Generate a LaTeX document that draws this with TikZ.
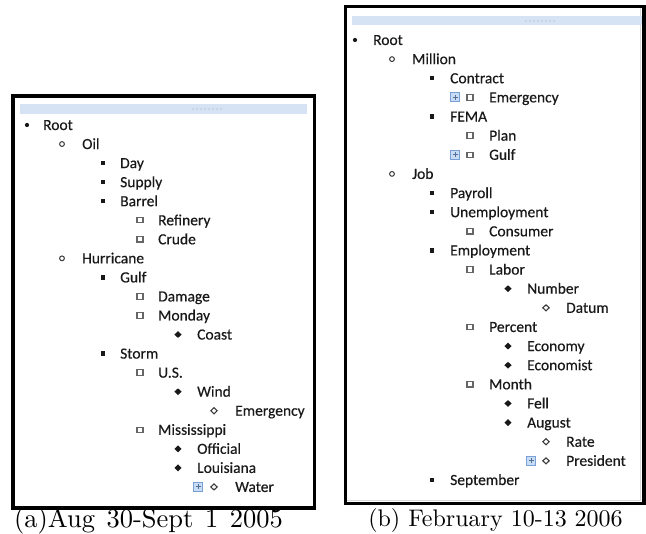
\documentclass[tikz,border=0pt]{standalone}
\usepackage{fontspec}
\newfontfamily\listfont{Carlito}[FakeBold=0.35]
\newfontfamily\capfont{lmroman10-regular}[Extension=.otf]
\definecolor{hdrblue}{RGB}{214,227,244}
\definecolor{hdrdot}{RGB}{150,170,200}
\definecolor{iconblue}{RGB}{120,160,215}
\definecolor{iconfill}{RGB}{200,220,245}
\definecolor{txtc}{RGB}{25,25,25}
\tikzset{
  frame/.style={draw=black, line width=3.6pt},
  hdr/.style={fill=hdrblue, draw=none},
  itemtext/.style={anchor=base west, inner sep=0pt, font=\listfont\fontsize{15.5}{18}\selectfont, text=txtc},
  captext/.style={anchor=base, inner sep=0pt, font=\capfont\fontsize{24}{28}\selectfont},
}
\newcommand\mybullet[3]{% level, x, y
  \ifcase#1
    \fill[txtc] (#2,#3) circle (2.1);
  \or
    \draw[txtc!85, line width=1pt] (#2,#3) circle (2.4);
  \or
    \fill[txtc] (#2-2.2,#3-2.2) rectangle (#2+2.2,#3+2.2);
  \or
    \draw[black!60, line width=1.1pt] (#2-3,#3-2.7) rectangle (#2+3,#3+2.7);
  \or
    \fill[txtc] (#2-3.6,#3) -- (#2,#3-3.4) -- (#2+3.6,#3) -- (#2,#3+3.4) -- cycle;
  \or
    \draw[txtc!85, line width=1.1pt] (#2-3.2,#3) -- (#2,#3-3) -- (#2+3.2,#3) -- (#2,#3+3) -- cycle;
  \fi}
\newcommand\myicon[2]{%
  \draw[iconblue, fill=iconfill, line width=0.8pt] (#1-4.5,#2-4.5) rectangle (#1+4.5,#2+4.5);
  \draw[iconblue!70!black, line width=0.9pt] (#1-2.5,#2) -- (#1+2.5,#2) (#1,#2-2.5) -- (#1,#2+2.5);}
\begin{document}
\begin{tikzpicture}[x=1pt,y=-1pt]
\useasboundingbox (0,0) rectangle (646,534);
\fill[white] (0,0) rectangle (646,534);

% ---------- panel (a) ----------
\fill[hdr] (20,104) rectangle (307,114.5);
\foreach \k in {0,...,7} \fill[hdrdot] (193+4*\k,109) circle (0.6);
\foreach \lev/\txt/\ic [count=\i from 0] in {
  0/Root/0, 1/Oil/0, 2/Day/0, 2/Supply/0, 2/Barrel/0, 3/Refinery/0, 3/Crude/0,
  1/Hurricane/0, 2/Gulf/0, 3/Damage/0, 3/Monday/0, 4/Coast/0, 2/Storm/0,
  3/U.S./0, 4/Wind/0, 5/Emergency/0, 3/Mississippi/0, 4/Official/0,
  4/Louisiana/0, 5/Water/1}{
  \pgfmathsetmacro{\yy}{125+19.05*\i}
  \pgfmathsetmacro{\bx}{{27,62,103,140,178,214}[\lev]}
  \pgfmathsetmacro{\tx}{{43,82,120,158,197,235}[\lev]}
  \mybullet{\lev}{\bx}{\yy}
  \ifnum\ic=1 \myicon{\bx-16}{\yy}\fi
  \node[itemtext] (a\i) at (\tx,\yy+5) {\txt};
}
\draw[frame] (12.8,95.8) rectangle (314.5,508);
\node[captext, font=\capfont\fontsize{26.5}{30}\selectfont] (capa) at (148.5,527.5) {\makebox[269pt][s]{(a)Aug 30-Sept 1 2005}};

% ---------- panel (b) ----------
\draw[black!15, line width=0.8pt] (347,500.5) -- (640.5,500.5) -- (640.5,8);
\fill[hdr] (352,16) rectangle (642,25.5);
\foreach \k in {0,...,7} \fill[hdrdot] (526+4*\k,21) circle (0.6);
\foreach \lev/\txt/\ic [count=\i from 0] in {
  0/Root/0, 1/Million/0, 2/Contract/0, 3/Emergency/1, 2/FEMA/0, 3/Plan/0,
  3/Gulf/1, 1/Job/0, 2/Payroll/0, 2/Unemployment/0, 3/Consumer/0,
  2/Employment/0, 3/Labor/0, 4/Number/0, 5/Datum/0, 3/Percent/0,
  4/Economy/0, 4/Economist/0, 3/Month/0, 4/Fell/0, 4/August/0,
  5/Rate/0, 5/President/1, 2/September/0}{
  \pgfmathsetmacro{\yy}{40+19.13*\i}
  \pgfmathsetmacro{\bx}{{355,392,432,470,508,546}[\lev]}
  \pgfmathsetmacro{\tx}{{373,412,450,489,527,566}[\lev]}
  \mybullet{\lev}{\bx}{\yy}
  \ifnum\ic=1 \myicon{\bx-15}{\yy}\fi
  \node[itemtext] (b\i) at (\tx,\yy+5) {\txt};
}
\draw[frame] (345.5,6.5) rectangle (644.2,503.5);
\node[captext] (capb) at (495.5,527) {(b) February 10-13 2006};
\end{tikzpicture}
\end{document}
